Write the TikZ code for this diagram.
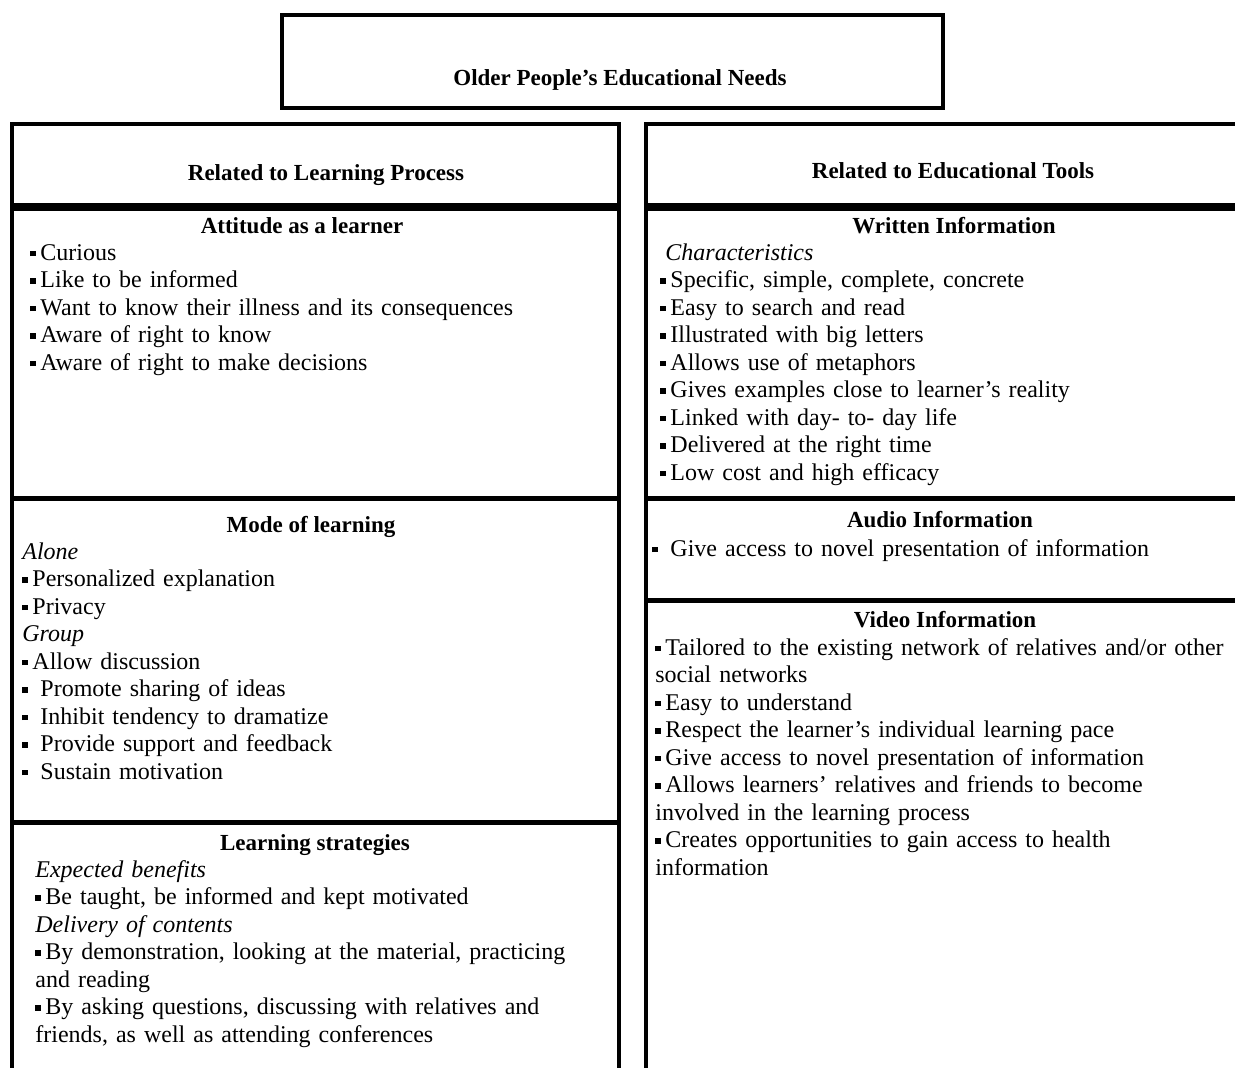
\documentclass[tikz,border=0pt]{standalone}
\usepackage{fontspec}
\setmainfont{Liberation Serif}
\usepackage{tikz}
\usetikzlibrary{positioning}
\newcommand{\sq}{\rule[0.35ex]{0.22em}{0.22em}\hspace{0.2em}}

\begin{document}
\begin{tikzpicture}[x=0.5pt, y=-0.5pt]
    \tikzstyle{boxline} = [line width=2pt]
    \tikzstyle{sepline} = [line width=2.5pt]
    \tikzstyle{heavyline} = [line width=4pt]
    \tikzstyle{heading} = [font=\fontsize{11.5}{13.75}\selectfont\bfseries, anchor=base, inner sep=0pt]
    \tikzstyle{bodytext} = [font=\fontsize{12}{13.75}\selectfont, anchor=base west, inner sep=0pt, text width=300pt, align=left]

    \useasboundingbox (0,0) rectangle (1235,1067);

    % frames
    \draw [boxline] (282,15) rectangle (943,108);
    \draw [boxline] (12,1070) -- (12,124) -- (619,124) -- (619,1070);
    \draw [boxline] (646,1070) -- (646,124) -- (1240,124);
    \draw [heavyline] (12,207) -- (619,207);
    \draw [heavyline] (646,207) -- (1240,207);
    \draw [sepline] (12,498) -- (619,498);
    \draw [sepline] (12,822) -- (619,822);
    \draw [sepline] (646,498) -- (1240,498);
    \draw [sepline] (646,600) -- (1240,600);

    % headings
    \node (needs) [heading] at (620,85) {Older People’s Educational Needs};
    \node (process) [heading] at (326,180) {Related to Learning Process};
    \node (tools) [heading] at (953,178) {Related to Educational Tools};
    \node (attitude) [heading] at (302,233) {Attitude as a learner};
    \node (mode) [heading] at (311,532) {Mode of learning};
    \node (strategies) [heading] at (315,850) {Learning strategies};
    \node (written) [heading] at (954,233) {Written Information};
    \node (audio) [heading] at (940,527) {Audio Information};
    \node (video) [heading] at (945,627) {Video Information};

    % left column
    \node (attitudelist) [bodytext] at (30,260) {\sq Curious\\
        \sq Like to be informed\\
        \sq Want to know their illness and its consequences\\
        \sq Aware of right to know\\
        \sq Aware of right to make decisions};
    \node (modelist) [bodytext] at (22,559) {\textit{Alone}\\
        \sq Personalized explanation\\
        \sq Privacy\\
        \textit{Group}\\
        \sq Allow discussion\\
        \sq\ Promote sharing of ideas\\
        \sq\ Inhibit tendency to dramatize\\
        \sq\ Provide support and feedback\\
        \sq\ Sustain motivation};
    \node (strategylist) [bodytext] at (35,877) {\textit{Expected benefits}\\
        \sq Be taught, be informed and kept motivated\\
        \textit{Delivery of contents}\\
        \sq By demonstration, looking at the material, practicing\\
        and reading\\
        \sq By asking questions, discussing with relatives and\\
        friends, as well as attending conferences};

    % right column
    \node (writtenlist) [bodytext] at (660,260) {\hspace*{2.5pt}\textit{Characteristics}\\
        \sq Specific, simple, complete, concrete\\
        \sq Easy to search and read\\
        \sq Illustrated with big letters\\
        \sq Allows use of metaphors\\
        \sq Gives examples close to learner’s reality\\
        \sq Linked with day- to- day life\\
        \sq Delivered at the right time\\
        \sq Low cost and high efficacy};
    \node (audiolist) [bodytext] at (652,556) {\sq\ Give access to novel presentation of information};
    \node (videolist) [bodytext] at (655,655) {\sq Tailored to the existing network of relatives and/or other\\
        social networks\\
        \sq Easy to understand\\
        \sq Respect the learner’s individual learning pace\\
        \sq Give access to novel presentation of information\\
        \sq Allows learners’ relatives and friends to become\\
        involved in the learning process\\
        \sq Creates opportunities to gain access to health\\
        information};
\end{tikzpicture}
\end{document}
